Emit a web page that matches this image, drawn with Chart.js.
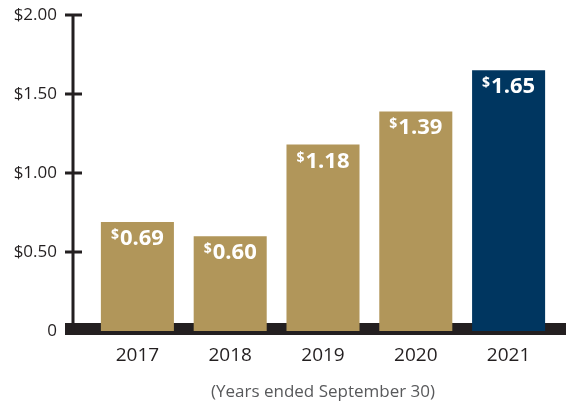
<!DOCTYPE html>
<html>
<head>
<meta charset="utf-8">
<script src="https://cdn.jsdelivr.net/npm/chart.js@4.4.0/dist/chart.umd.min.js"></script>
<style>
  html, body { margin: 0; padding: 0; background: #fff; }
  #wrap { width: 566px; height: 402px; }
</style>
</head>
<body>
<div id="wrap"><canvas id="divChart" width="566" height="402"></canvas></div>
<script>
// Dividendos por ano fiscal
const years = ['2017', '2018', '2019', '2020', '2021'];
const dividends = [0.69, 0.60, 1.18, 1.39, 1.65];
const yTicks = [0, 0.5, 1, 1.5, 2];
const xTitle = '(Years ended September 30)';

const GOLD = '#b1965a';
const NAVY = '#003660';
const INK = '#231f20';
const FONT = "'Open Sans', sans-serif";

// Eixo vertical, marcas e faixa preta da base
const axisDecor = {
    id: 'axisDecor',
    beforeDatasetsDraw(chart) {
        const { ctx, chartArea, scales: { y } } = chart;
        const zero = y.getPixelForValue(0);
        const axisX = chartArea.left - 18;
        ctx.save();
        ctx.fillStyle = INK;
        ctx.fillRect(axisX - 8, zero - 8, chart.width - (axisX - 8), 12);
        ctx.strokeStyle = INK;
        ctx.lineWidth = 3;
        ctx.beginPath();
        ctx.moveTo(axisX, y.getPixelForValue(yTicks[yTicks.length - 1]) - 1.5);
        ctx.lineTo(axisX, zero);
        yTicks.forEach(v => {
            if (v === 0) return;
            const py = y.getPixelForValue(v);
            ctx.moveTo(axisX - 8, py);
            ctx.lineTo(axisX + 9, py);
        });
        ctx.stroke();
        ctx.restore();
    },
    afterDatasetsDraw(chart) {
        // Valores dentro das barras, com "$" pequeno em sobrescrito
        const { ctx } = chart;
        const meta = chart.getDatasetMeta(0);
        ctx.save();
        ctx.fillStyle = '#fff';
        ctx.textBaseline = 'alphabetic';
        ctx.textAlign = 'left';
        meta.data.forEach((bar, i) => {
            const num = dividends[i].toFixed(2);
            ctx.font = `bold 14px ${FONT}`;
            const wSign = ctx.measureText('$').width;
            ctx.font = `bold 22px ${FONT}`;
            const wNum = ctx.measureText(num).width;
            const x0 = bar.x - (wSign + 1 + wNum) / 2;
            ctx.font = `bold 14px ${FONT}`;
            ctx.fillText('$', x0, bar.y + 17);
            ctx.font = `bold 22px ${FONT}`;
            ctx.fillText(num, x0 + wSign + 1, bar.y + 23);
        });
        ctx.restore();
    }
};

const ctx = document.getElementById('divChart').getContext('2d');
new Chart(ctx, {
    type: 'bar',
    data: {
        labels: years,
        datasets: [{
            data: dividends,
            backgroundColor: dividends.map((_, i) => i === dividends.length - 1 ? NAVY : GOLD),
            borderWidth: 0,
            categoryPercentage: 1,
            barPercentage: 0.787
        }]
    },
    options: {
        responsive: false,
        animation: false,
        layout: { padding: { top: 15, right: 11, left: 0, bottom: 0 } },
        plugins: {
            legend: { display: false },
            tooltip: { enabled: false }
        },
        scales: {
            y: {
                min: 0,
                max: 2,
                afterBuildTicks(scale) {
                    scale.ticks = yTicks.map(v => ({ value: v }));
                },
                afterFit(scale) {
                    // largura fixa; o padding dos rótulos não empurra a área do gráfico
                    scale.width = 91;
                    scale.paddingTop = 0;
                    scale.paddingBottom = 0;
                },
                grid: { display: false },
                border: { display: false },
                ticks: {
                    padding: 26,
                    color: INK,
                    font: { family: FONT, size: 17 },
                    callback: v => v === 0 ? '0' : '$' + v.toFixed(2)
                }
            },
            x: {
                afterFit(scale) {
                    scale.height = 71;
                },
                grid: { display: false },
                border: { display: false },
                ticks: {
                    padding: 5,
                    color: INK,
                    font: { family: FONT, size: 19 }
                },
                title: {
                    display: true,
                    text: xTitle,
                    color: '#58595b',
                    font: { family: FONT, size: 17 },
                    padding: { top: 8, bottom: 0 }
                }
            }
        }
    },
    plugins: [axisDecor]
});
</script>
</body>
</html>
